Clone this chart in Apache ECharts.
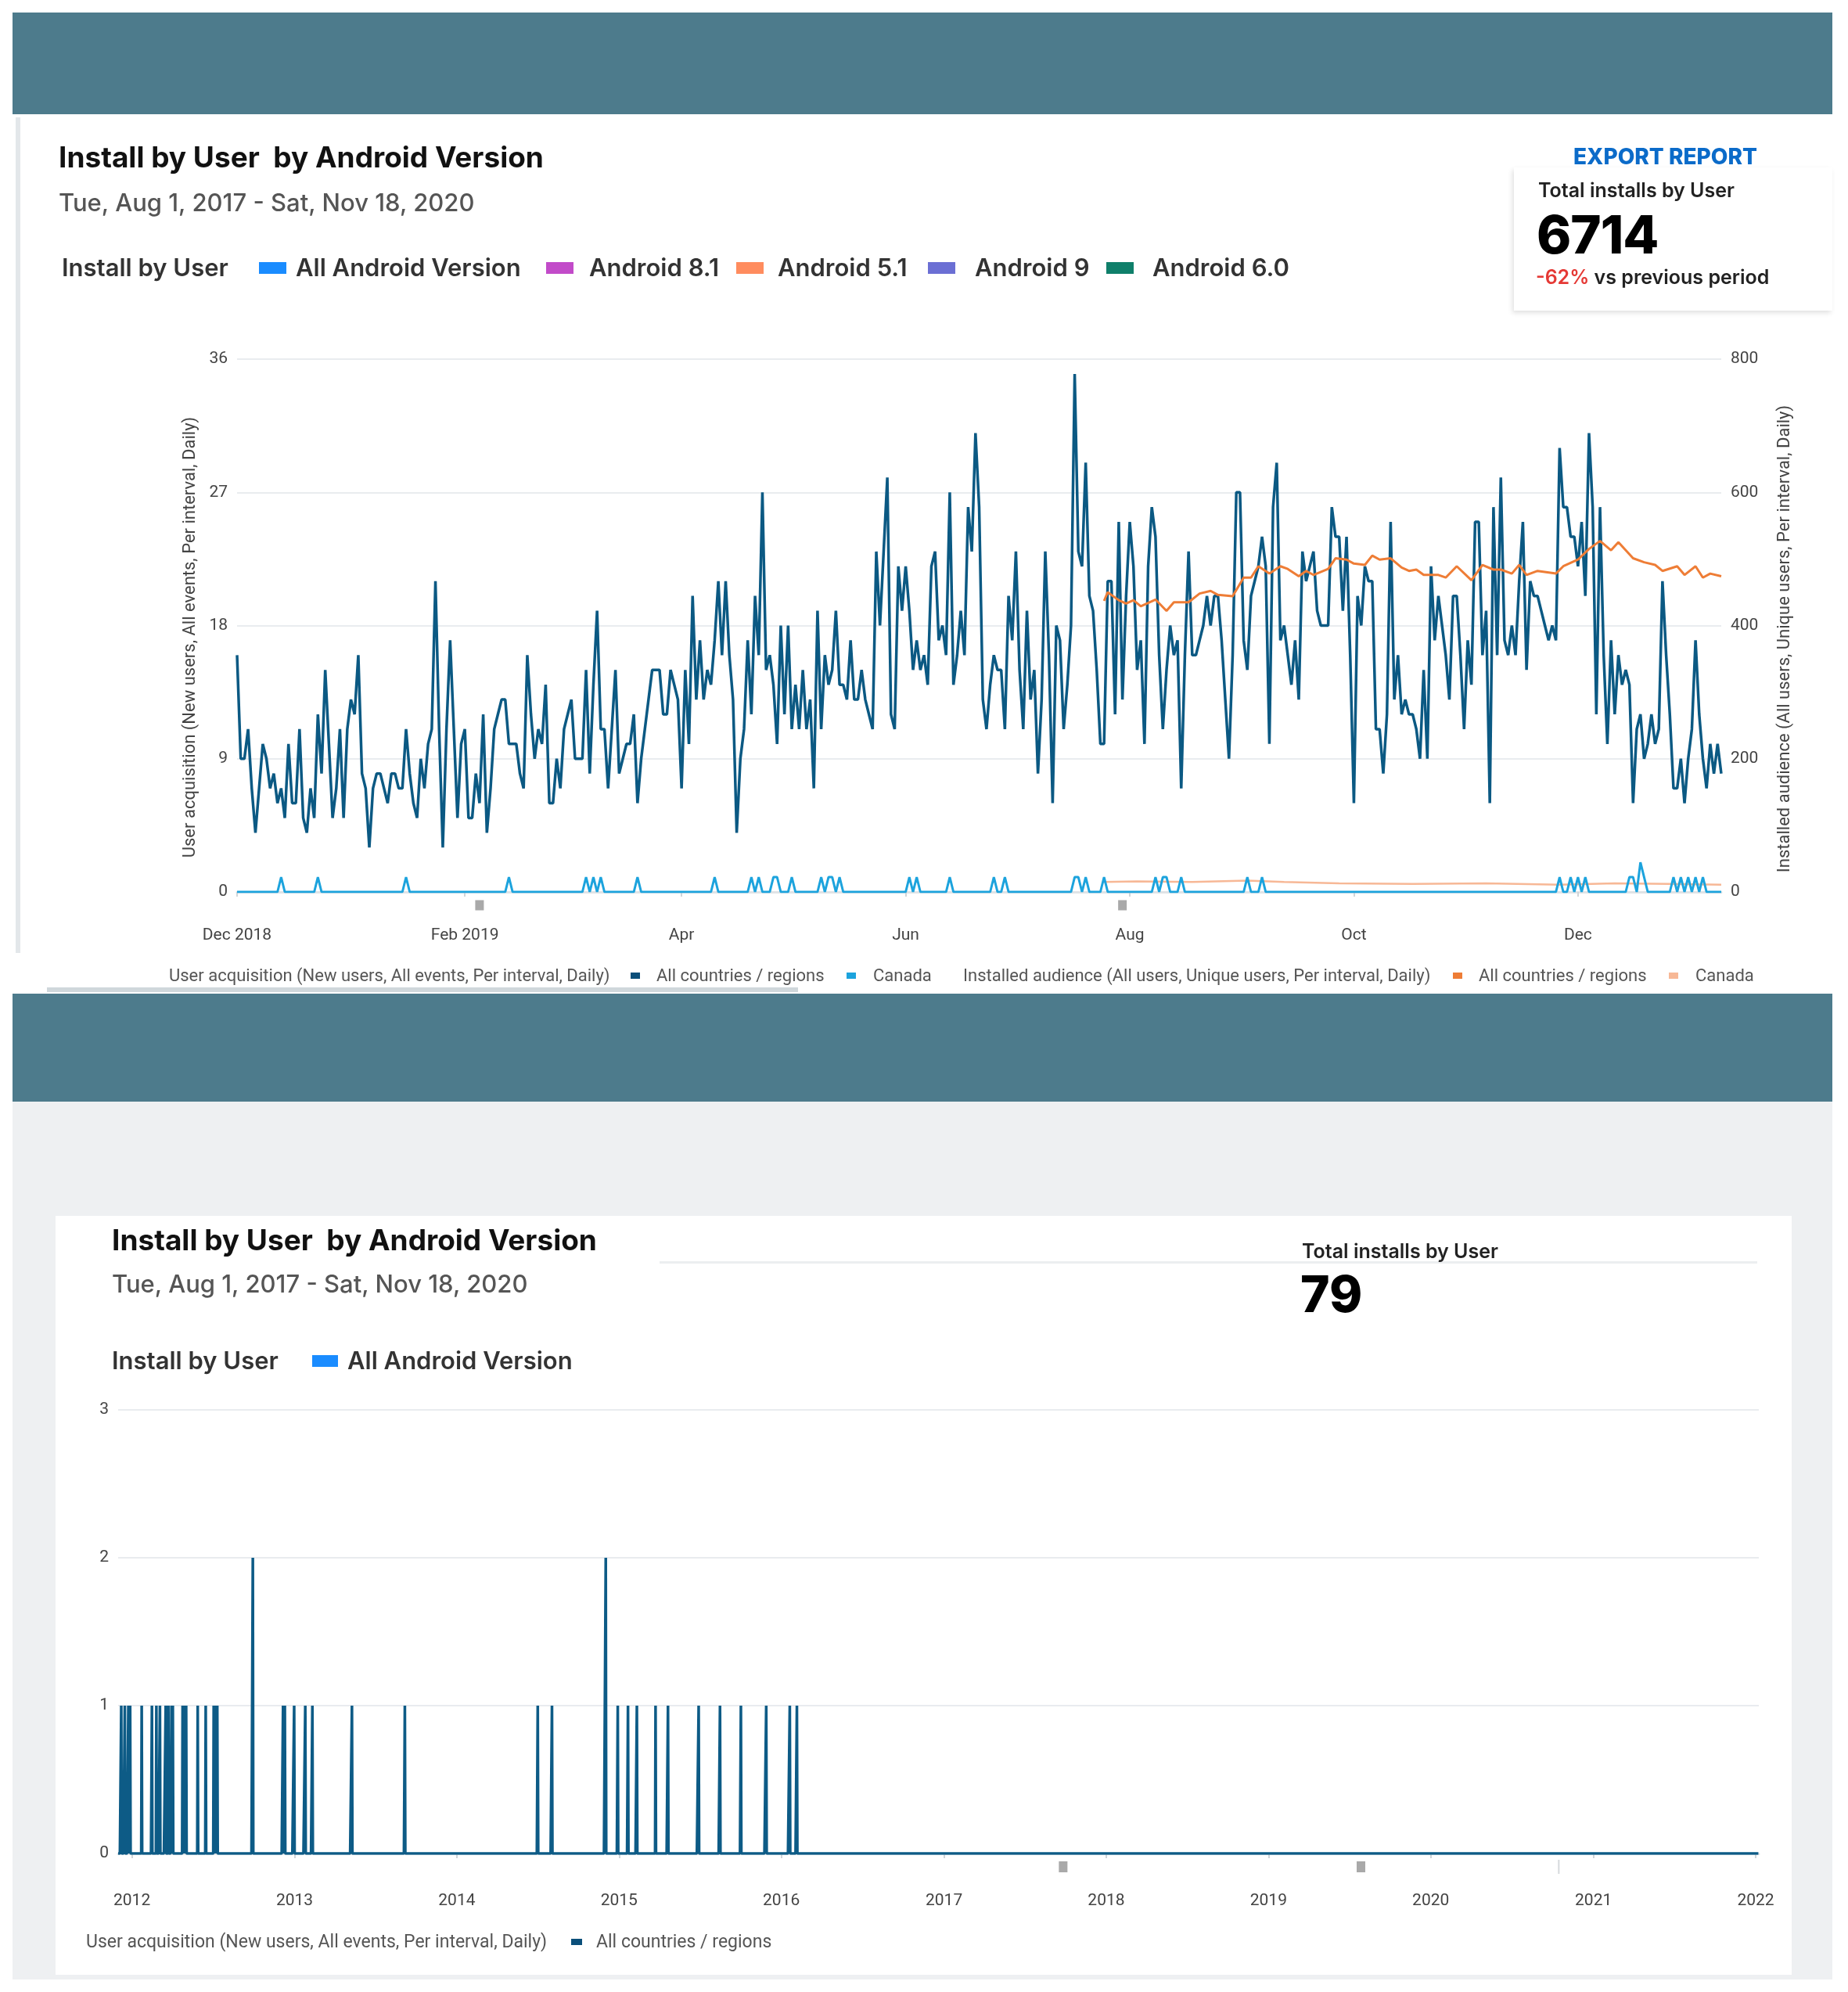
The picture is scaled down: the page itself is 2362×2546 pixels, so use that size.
<!DOCTYPE html>
<html><head><meta charset="utf-8">
<script src="https://cdn.jsdelivr.net/npm/echarts@6/dist/echarts.min.js"></script>
<style>
html,body{margin:0;padding:0;}
body{width:2362px;height:2546px;position:relative;overflow:hidden;background:#fff;font-family:Inter,"Noto Sans",sans-serif;}
.a{position:absolute;white-space:pre;}
.sq{position:absolute;}
.lg{position:absolute;white-space:pre;font-family:Roboto,sans-serif;font-size:22px;color:#555;line-height:28px;}
.lg2{position:absolute;white-space:pre;font-family:Roboto,sans-serif;font-size:23px;color:#555;line-height:28px;}
.t1{position:absolute;white-space:pre;font-size:37px;line-height:44px;font-weight:700;color:#111;}
.dt{position:absolute;white-space:pre;font-size:31px;line-height:38px;font-weight:500;color:#555;}
.lr{position:absolute;white-space:pre;font-size:31px;line-height:38px;font-weight:600;color:#333;}
</style></head><body>
<!-- backgrounds -->
<div class="a" style="left:16px;top:16px;width:2326px;height:130px;background:#4d7b8c"></div>
<div class="a" style="left:20px;top:150px;width:6px;height:1068px;background:#e3e7ea"></div>
<div class="a" style="left:60px;top:1262px;width:960px;height:6px;background:#cfd7db"></div>
<div class="a" style="left:1022px;top:1261px;width:1120px;height:10px;background:#ffffff;border-radius:4px"></div>
<div class="a" style="left:16px;top:1270px;width:2326px;height:138px;background:#4d7b8c"></div>
<div class="a" style="left:16px;top:1408px;width:2326px;height:1122px;background:#eef0f2"></div>
<div class="a" style="left:71px;top:1554px;width:2219px;height:970px;background:#ffffff"></div>
<div class="a" style="left:1935px;top:214px;width:407px;height:183px;background:#fff;box-shadow:-2px 3px 6px rgba(0,0,0,0.12)"></div>
<div class="a" style="left:843px;top:1612px;width:1403px;height:3px;background:#eceef0"></div>

<div id="chart" class="a" style="left:0;top:0;width:2362px;height:2546px;"></div>

<!-- panel 1 header -->
<div class="t1" style="left:75px;top:179px">Install by User  by Android Version</div>
<div class="dt" style="left:75px;top:240px">Tue, Aug 1, 2017 - Sat, Nov 18, 2020</div>
<div class="lr" style="left:79px;top:323px">Install by User</div>
<div class="sq" style="left:331px;top:335px;width:35px;height:15px;background:#1a8cff"></div>
<div class="lr" style="left:378px;top:323px">All Android Version</div>
<div class="sq" style="left:698px;top:335px;width:35px;height:15px;background:#c24bc9"></div>
<div class="lr" style="left:753px;top:323px">Android 8.1</div>
<div class="sq" style="left:941px;top:335px;width:35px;height:15px;background:#ff8c5e"></div>
<div class="lr" style="left:994px;top:323px">Android 5.1</div>
<div class="sq" style="left:1186px;top:335px;width:35px;height:15px;background:#6b6fd4"></div>
<div class="lr" style="left:1246px;top:323px">Android 9</div>
<div class="sq" style="left:1414px;top:335px;width:35px;height:15px;background:#0f7f6a"></div>
<div class="lr" style="left:1473px;top:323px">Android 6.0</div>

<div class="a" style="left:2011px;top:183px;font-size:28px;line-height:34px;font-weight:800;color:#0b6bc9">EXPORT REPORT</div>
<div class="a" style="left:1966px;top:228px;font-size:25px;line-height:30px;font-weight:600;color:#222">Total installs by User</div>
<div class="a" style="left:1964px;top:260px;font-size:67px;line-height:80px;font-weight:800;color:#000;letter-spacing:-1px">6714</div>
<div class="a" style="left:1963px;top:339px;font-size:25px;line-height:30px;font-weight:600;color:#222"><span style="color:#e53935">-62%</span> vs previous period</div>

<!-- panel 1 legend -->
<div class="lg" style="left:216px;top:1233px">User acquisition (New users, All events, Per interval, Daily)</div>
<div class="sq" style="left:806px;top:1243px;width:12px;height:8px;background:#0b4f7a"></div>
<div class="lg" style="left:839px;top:1233px">All countries / regions</div>
<div class="sq" style="left:1082px;top:1243px;width:12px;height:8px;background:#1ca3dd"></div>
<div class="lg" style="left:1116px;top:1233px">Canada</div>
<div class="lg" style="left:1231px;top:1233px">Installed audience (All users, Unique users, Per interval, Daily)</div>
<div class="sq" style="left:1857px;top:1243px;width:12px;height:8px;background:#ee7d36"></div>
<div class="lg" style="left:1890px;top:1233px">All countries / regions</div>
<div class="sq" style="left:2133px;top:1243px;width:12px;height:8px;background:#f7b896"></div>
<div class="lg" style="left:2167px;top:1233px">Canada</div>

<!-- panel 2 header -->
<div class="t1" style="left:143px;top:1563px">Install by User  by Android Version</div>
<div class="dt" style="left:143px;top:1622px">Tue, Aug 1, 2017 - Sat, Nov 18, 2020</div>
<div class="a" style="left:1664px;top:1584px;font-size:25px;line-height:30px;font-weight:600;color:#222">Total installs by User</div>
<div class="a" style="left:1662px;top:1614px;font-size:64px;line-height:80px;font-weight:800;color:#000">79</div>
<div class="lr" style="left:143px;top:1720px">Install by User</div>
<div class="sq" style="left:399px;top:1732px;width:33px;height:15px;background:#1a8cff"></div>
<div class="lr" style="left:444px;top:1720px">All Android Version</div>

<!-- panel 2 legend -->
<div class="lg2" style="left:110px;top:2468px">User acquisition (New users, All events, Per interval, Daily)</div>
<div class="sq" style="left:730px;top:2478px;width:14px;height:8px;background:#0b4f7a"></div>
<div class="lg2" style="left:762px;top:2468px">All countries / regions</div>

<script>
// ---------- DATA ----------
// Chart 1: daily user acquisition, All countries / regions, starting 2018-12-01
const uaStart = '2018-12-01';
const uaAll = [
16,9,9,11,7,4,7,10,9,7, 8,6,7,5,10,6,6,11,5,4, 7,5,12,8,15,10,5,7,11,5, 11,13,12,16,8,7,3,7,8,8,
7,6,8,8,7,7,11,8,6,5, 9,7,10,11,21,11,3,11,17,11, 5,10,11,5,5,8,6,12,4,7, 11,12,13,13,10,10,10,8,7,16,
12,9,11,10,14,6,6,9,7,11, 12,13,9,9,9,15,8,14,19,11,
11,7,11,15,8,9,10,10,12,6, 9,11,13,15,15,15,12,12,15,14, 13,7,15,10,20,13,17,13,15,14, 17,21,16,21,16,13,4,9,11,17,
12,20,16,27,15,16,14,10,18,12, 18,11,14,11,15,11,13,7,19,11, 16,14,15,19,14,14,13,17,13,13, 15,13,12,11,23,18,23,28,12,11,
22,19,22,19,15,17,15,16,14,22, 23,17,18,16,27,14,16,19,16,26,
23,31,26,13,11,14,16,15,15,11, 20,17,23,15,11,19,13,15,8,13, 23,16,6,18,17,11,14,18,35,23, 22,29,20,19,15,10,10,21,21,12,
25,13,20,25,22,15,17,10,22,26, 24,16,11,15,18,16,17,7,16,23, 16,16,17,18,20,18,20,20,17,13, 9,16,27,27,17,15,20,21,22,24,
22,10,26,29,17,18,16,14,17,13, 23,21,22,23,19,18,18,18,26,24,
24,19,24,16,6,20,18,22,21,21, 11,11,8,12,25,13,16,12,13,12, 12,11,9,15,9,22,17,20,18,16, 13,20,20,16,11,17,14,25,25,16,
19,6,26,16,28,17,16,18,16,21, 25,15,21,20,20,19,18,17,18,17, 30,26,26,24,24,22,25,20,31,26, 12,26,16,10,17,12,16,14,15,14,
6,11,12,9,10,12,10,11,21,16, 12,7,7,9,6,9,11,17,12,9, 7,10,8,10,8
];
// Canada user acquisition: days (index from uaStart) with installs; all other days read as 0
const caSpikeDays = [12,22,46,74,95,97,99,109,130,140,142,146,147,151,159,161,162,164,183,185,194,206,209,228,229,231,236,250,252,253,257,275,279,360,363,365,367,379,380,382,383,391,393,395,397,399];
const caSpikeVals = [1,1,1,1,1,1,1,1,1,1,1,1,1,1,1,1,1,1,1,1,1,1,1,1,1,1,1,1,1,1,1,1,1,1,1,1,1,1,1,2,1,1,1,1,1,1];
// Installed audience, All countries / regions (right axis), read at vertices
const iaAllDays = [236,237,240,242,244,246,250,253,255,259,262,265,267,271,274,276,278,281,284,286,289,291,293,297,299,302,304,307,309,311,314,317,319,321,323,327,329,332,336,339,342,344,347,349,351,354,359,361,365,368,371,374,376,380,383,386,388,392,394,397,399,401,404];
const iaAllVals = [437,450,438,433,438,429,439,422,435,435,448,452,446,444,472,472,489,478,489,485,474,482,476,485,501,499,493,491,505,499,501,487,482,484,476,476,472,489,468,491,484,484,478,491,476,482,478,489,499,515,527,513,525,501,495,491,482,489,476,489,472,478,474];
// Installed audience, Canada (right axis)
const iaCaDays = [236,245,260,275,285,300,320,340,360,375,390,404];
const iaCaVals = [15,16,15,17,15,13,12,13,11,13,12,11];
// grey annotation markers on chart 1
const marks1 = ['2019-02-05','2019-07-30'];

// Chart 2: daily user acquisition 2011-12-01 .. 2022-01-08; only these dates are non-zero
const c2Start = '2011-12-01', c2End = '2022-01-08';
const c2SpikeDates = ['2011-12-08','2011-12-16','2011-12-24','2011-12-28','2012-01-23','2012-02-15','2012-02-25','2012-03-04','2012-03-17','2012-03-23','2012-03-30','2012-04-02','2012-04-24','2012-04-28','2012-05-02','2012-05-28','2012-06-15','2012-07-03','2012-07-07','2012-07-11','2012-09-29','2012-12-06','2012-12-10','2012-12-31','2013-01-25','2013-02-10','2013-05-10','2013-09-06','2014-07-02','2014-08-03','2014-12-02','2014-12-29','2015-01-21','2015-02-10','2015-03-24','2015-04-21','2015-06-29','2015-08-16','2015-10-02','2015-11-28','2016-01-20','2016-02-05'];
const c2SpikeVals = [1,1,1,1,1,1,1,1,1,1,1,1,1,1,1,1,1,1,1,1,2,1,1,1,1,1,1,1,1,1,2,1,1,1,1,1,1,1,1,1,1,1];
const marks2 = ['2017-09-26','2019-07-28'];
const tickMark2 = ['2020-10-15'];

// ---------- BUILD ----------
const MON = ['Jan','Feb','Mar','Apr','May','Jun','Jul','Aug','Sep','Oct','Nov','Dec'];
function addDays(s, n){ const d = new Date(s + 'T00:00:00Z'); d.setUTCDate(d.getUTCDate() + n); return d.toISOString().slice(0,10); }
const uaDates = uaAll.map((_, i) => addDays(uaStart, i));
const caSeries = uaDates.map(() => 0);
caSpikeDays.forEach((d, k) => { caSeries[d] = caSpikeVals[k]; });
const iaAll = iaAllDays.map((d, k) => [uaDates[d], iaAllVals[k]]);
const iaCa = iaCaDays.map((d, k) => [uaDates[d], iaCaVals[k]]);

const c2Dates = [];
for (let i = 0; ; i++) { const s = addDays(c2Start, i); c2Dates.push(s); if (s === c2End) break; }
const c2Vals = c2Dates.map(() => 0);
c2SpikeDates.forEach((s, k) => { const i = c2Dates.indexOf(s); if (i >= 0) c2Vals[i] = c2SpikeVals[k]; });

const labelMonths1 = ['12','02','04','06','08','10'];
const showLab1 = (i, v) => v.slice(8) === '01' && labelMonths1.includes(v.slice(5,7));
const fmt1 = (v) => { const m = +v.slice(5,7); const y = v.slice(0,4); return (v === '2018-12-01' || v === '2019-02-01') ? MON[m-1] + ' ' + y : MON[m-1]; };
const showLab2 = (i, v) => v.slice(5) === '01-01';

const axTxt = {color:'#444', fontSize:21, fontFamily:'Roboto'};
const chart = echarts.init(document.getElementById('chart'), null, {width:2362, height:2546});
chart.setOption({
  animation:false,
  grid:[{left:303, top:459, width:1897, height:681}, {left:151, top:1802, width:2097, height:567}],
  xAxis:[
    {gridIndex:0, type:'category', data:uaDates, boundaryGap:false, offset:26,
     axisLine:{lineStyle:{color:'#dfe3e6', width:3}},
     axisTick:{show:true, interval:showLab1, length:6, lineStyle:{color:'#d0d5d9', width:2}},
     axisLabel:Object.assign({interval:showLab1, formatter:fmt1, margin:19}, axTxt),
     splitLine:{show:false}},
    {gridIndex:1, type:'category', data:c2Dates, boundaryGap:false, offset:31,
     axisLine:{lineStyle:{color:'#e1e4e7', width:3}},
     axisTick:{show:true, interval:showLab2, length:6, lineStyle:{color:'#d0d5d9', width:2}},
     axisLabel:Object.assign({interval:showLab2, formatter:(v)=>v.slice(0,4), margin:19}, axTxt),
     splitLine:{show:false}}
  ],
  yAxis:[
    {gridIndex:0, type:'value', min:0, max:36, interval:9, position:'left',
     axisLine:{show:false}, axisTick:{show:false}, axisLabel:Object.assign({margin:12}, axTxt),
     splitLine:{lineStyle:{color:'#e9ecef', width:2}},
     name:'User acquisition (New users, All events, Per interval, Daily)', nameLocation:'middle', nameRotate:90, nameGap:49,
     nameTextStyle:{color:'#444', fontSize:22, fontFamily:'Roboto', padding:[0,30,0,0]}},
    {gridIndex:0, type:'value', min:0, max:800, interval:200, position:'right',
     axisLine:{show:false}, axisTick:{show:false}, axisLabel:Object.assign({margin:12}, axTxt),
     splitLine:{show:false},
     name:'Installed audience (All users, Unique users, Per interval, Daily)', nameLocation:'middle', nameRotate:90, nameGap:70,
     nameTextStyle:{color:'#444', fontSize:22, fontFamily:'Roboto', padding:[0,34,0,0]}},
    {gridIndex:1, type:'value', min:0, max:3, interval:1,
     axisLine:{show:false}, axisTick:{show:false}, axisLabel:Object.assign({margin:12}, axTxt),
     splitLine:{lineStyle:{color:'#e9ecef', width:2}}}
  ],
  series:[
    {type:'line', name:'IA Canada', xAxisIndex:0, yAxisIndex:1, data:iaCa, showSymbol:false, color:'#f7b896', lineStyle:{width:2.5}, z:1},
    {type:'line', name:'UA Canada', xAxisIndex:0, yAxisIndex:0, data:caSeries, showSymbol:false, color:'#1ca3dd', lineStyle:{width:3}, z:2,
     markPoint:{symbol:'rect', symbolSize:[11,13], symbolOffset:[0,17], itemStyle:{color:'#a9a9a9'}, label:{show:false},
       data: marks1.map(d => ({coord:[d, 0]}))}},
    {type:'line', name:'UA All', xAxisIndex:0, yAxisIndex:0, data:uaAll, showSymbol:false, color:'#0b5983', lineStyle:{width:3.5}, z:3},
    {type:'line', name:'IA All', xAxisIndex:0, yAxisIndex:1, data:iaAll, showSymbol:false, color:'#ee7d36', lineStyle:{width:3}, z:4},
    {type:'line', name:'UA All 2', xAxisIndex:1, yAxisIndex:2, data:c2Vals, showSymbol:false, color:'#0d5b86', lineStyle:{width:3.5}, z:3,
     markPoint:{symbol:'rect', label:{show:false},
       data: marks2.map(d => ({coord:[d, 0], symbolSize:[11,14], symbolOffset:[0,17], itemStyle:{color:'#a9a9a9'}}))
         .concat(tickMark2.map(d => ({coord:[d, 0], symbolSize:[2,18], symbolOffset:[0,17], itemStyle:{color:'#d5d9dc'}})))}}
  ]
});
</script>
</body></html>
